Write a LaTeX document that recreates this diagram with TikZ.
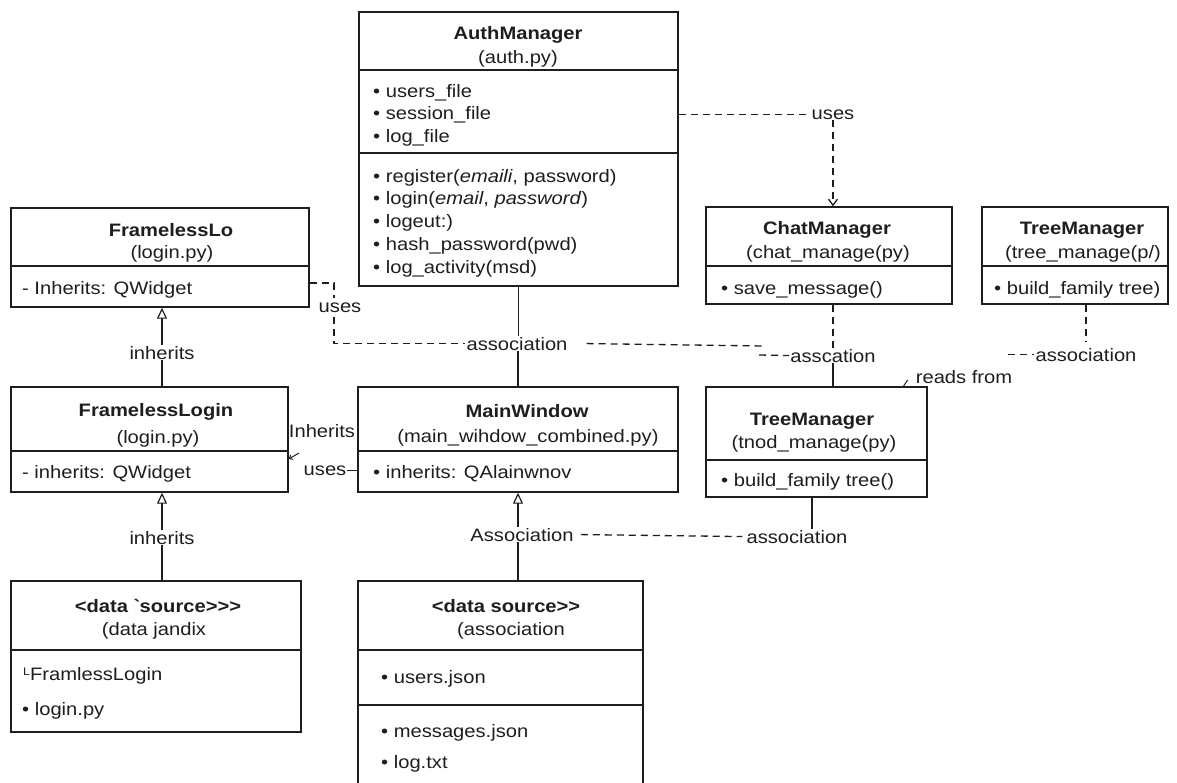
\documentclass[tikz,border=0pt]{standalone}
\usepackage{fontspec}
\setmainfont{Liberation Sans}[FakeStretch=1.12]
\usetikzlibrary{arrows.meta}
\definecolor{ink}{HTML}{1E1E1E}
\tikzset{
  umlbox/.style={draw=ink, line width=1.4pt, rectangle, inner sep=0pt},
  txt/.style={anchor=base, inner sep=1pt, text=ink, font=\fontsize{18}{18}\selectfont},
  ttl/.style={txt, font=\fontsize{18}{18}\selectfont\bfseries},
  item/.style={txt, anchor=base west},
  solidlink/.style={draw=ink, line width=1.3pt},
  dashlink/.style={draw=ink, line width=1.3pt, dash pattern=on 7pt off 5pt},
  inh/.style={-{Triangle[open,length=11pt,width=10pt,line width=1.2pt]}},
  dep/.style={-{Straight Barb[length=6pt,width=9pt]}},
}
\begin{document}
\begin{tikzpicture}[x=1pt,y=-1pt]
\useasboundingbox (0,0) rectangle (1177,782);
\fill[white] (0,0) rectangle (1177,782);
\clip (0,0) rectangle (1177,782);

% ---------- AuthManager ----------
\node[umlbox, minimum width=319pt, minimum height=274pt] (auth) at (518.5,149) {};
\draw[solidlink] (auth.west |- 0,70) -- (auth.east |- 0,70);
\draw[solidlink] (auth.west |- 0,153) -- (auth.east |- 0,153);
\node[ttl] (auth-n) at (518,39) {AuthManager};
\node[txt] (auth-f) at (518,63) {(auth.py)};
\node[item] (auth-a1) at (372,97) {• users\_file};
\node[item] (auth-a2) at (372,119) {• session\_file};
\node[item] (auth-a3) at (372,142) {• log\_file};
\node[item] (auth-m1) at (372,182) {• register(\textit{emaili}, password)};
\node[item] (auth-m2) at (372,204) {• login(\textit{email}, \textit{password})};
\node[item] (auth-m3) at (372,227) {• logeut:)};
\node[item] (auth-m4) at (372,250) {• hash\_password(pwd)};
\node[item] (auth-m5) at (372,273) {• log\_activity(msd)};

% ---------- FramelessLo ----------
\node[umlbox, minimum width=298pt, minimum height=99pt] (flo) at (160,257.5) {};
\draw[solidlink] (flo.west |- 0,266) -- (flo.east |- 0,266);
\node[ttl] (flo-n) at (171,236) {FramelessLo};
\node[txt] (flo-f) at (172,258) {(login.py)};
\node[item] (flo-a1) at (21,294) {- Inherits: QWidget};

% ---------- FramelessLogin ----------
\node[umlbox, minimum width=277pt, minimum height=105pt] (flogin) at (149.5,439.5) {};
\draw[solidlink] (flogin.west |- 0,451) -- (flogin.east |- 0,451);
\node[ttl] (flogin-n) at (156,416) {FramelessLogin};
\node[txt] (flogin-f) at (158,443) {(login.py)};
\node[item] (flogin-a1) at (21,478) {- inherits: QWidget};

% ---------- left data source ----------
\node[umlbox, minimum width=290pt, minimum height=151pt] (ds1) at (156,656.5) {};
\draw[solidlink] (ds1.west |- 0,650) -- (ds1.east |- 0,650);
\node[ttl] (ds1-n) at (158,612) {<data \textasciigrave source>{}>{}>};
\node[txt] (ds1-f) at (154,635) {(data jandix};
\node[item] (ds1-a1) at (22,680) {\raisebox{5pt}{\fontsize{11}{11}\selectfont L}FramlessLogin};
\node[item] (ds1-a2) at (21,715) {• login.py};

% ---------- MainWindow ----------
\node[umlbox, minimum width=320pt, minimum height=105pt] (mainw) at (518,439.5) {};
\draw[solidlink] (mainw.west |- 0,451) -- (mainw.east |- 0,451);
\node[ttl] (mainw-n) at (527,417) {MainWindow};
\node[txt] (mainw-f) at (528,442) {(main\_wihdow\_combined.py)};
\node[item] (mainw-a1) at (372,478) {• inherits: QAlainwnov};

% ---------- middle data source ----------
\node[umlbox, minimum width=285pt, minimum height=229pt] (ds2) at (500.5,695.5) {};
\draw[solidlink] (ds2.west |- 0,650) -- (ds2.east |- 0,650);
\draw[solidlink] (ds2.west |- 0,705) -- (ds2.east |- 0,705);
\node[ttl] (ds2-n) at (506,612) {<data source>{}>};
\node[txt] (ds2-f) at (511,635) {(association};
\node[item] (ds2-a1) at (380,683) {• users.json};
\node[item] (ds2-a2) at (380,737) {• messages.json};
\node[item] (ds2-a3) at (380,768) {• log.txt};

% ---------- ChatManager ----------
\node[umlbox, minimum width=246pt, minimum height=97pt] (chat) at (829,255.5) {};
\draw[solidlink] (chat.west |- 0,266) -- (chat.east |- 0,266);
\node[ttl] (chat-n) at (827,234) {ChatManager};
\node[txt] (chat-f) at (828,258) {(chat\_manage(py)};
\node[item] (chat-m1) at (720,294) {• save\_message()};

% ---------- TreeManager (top right) ----------
\node[umlbox, minimum width=186pt, minimum height=97pt] (tm1) at (1075,255.5) {};
\draw[solidlink] (tm1.west |- 0,266) -- (tm1.east |- 0,266);
\node[ttl] (tm1-n) at (1082,234) {TreeManager};
\node[txt] (tm1-f) at (1083,258) {(tree\_manage(p/)};
\node[item] (tm1-m1) at (993,294) {• build\_family tree)};

% ---------- TreeManager (lower) ----------
\node[umlbox, minimum width=221pt, minimum height=110pt] (tm2) at (816.5,442) {};
\draw[solidlink] (tm2.west |- 0,460) -- (tm2.east |- 0,460);
\node[ttl] (tm2-n) at (812,425) {TreeManager};
\node[txt] (tm2-f) at (814,448) {(tnod\_manage(py)};
\node[item] (tm2-m1) at (720,486) {• build\_family tree()};

% ---------- connector labels ----------
\node[txt] (usesT) at (833,119) {uses};
\node[txt] (usesL) at (340,312) {uses};
\node[txt] (assocM) at (517,350) {association};
\node[txt] (assocC) at (833,362) {asscation};
\node[txt] (assocR) at (1086,361) {association};
\node[txt] (reads) at (964,383) {reads from};
\node[txt] (inh1) at (162,359) {inherits};
\node[txt] (inh2) at (162,544) {inherits};
\node[txt] (inhR) at (322,437) {Inherits};
\node[txt] (usesM) at (325,475) {uses};
\node[txt] (assocL) at (522,541) {Association};
\node[txt] (assocB) at (797,543) {association};

% ---------- helper points ----------
\coordinate (uL1) at (334,298);
\coordinate (uL2) at (334,317);
\coordinate (stepA) at (764,346);
\coordinate (stepB) at (759,355);
\coordinate (ua) at (299,453);

% ---------- connectors ----------
% AuthManager uses ChatManager
\draw[dashlink] (auth.east |- usesT.west) -- (usesT.west);
\draw[dashlink, dep] (usesT.south) -- (usesT.south |- chat.north);
% FramelessLo uses ... association
\draw[dashlink] (flo.east |- 0,283) -| (uL1);
\draw[dashlink] (uL2) |- (assocM.west);
% AuthManager -- MainWindow
\draw[solidlink] (auth.south) -- (auth.south |- assocM.north);
\draw[solidlink] (assocM.south -| mainw.north) -- (mainw.north);
% association towards ChatManager / TreeManager
\draw[dashlink] ([xshift=18pt]assocM.east) -- (stepA);
\draw[dashlink] (stepB) -- (assocC.west);
\draw[dashlink] (assocC.north |- chat.south) -- (assocC.north);
\draw[solidlink] (assocC.south) -- (assocC.south |- tm2.north);
% TreeManager (top right) association / reads from
\draw[dashlink] (assocR.north |- tm1.south) -- ([yshift=6pt]assocR.north);
\draw[dashlink] ([xshift=-26pt]assocR.west) -- (assocR.west);
\draw[draw=ink, line width=1pt] ([xshift=-7pt,yshift=3pt]reads.base west) -- ++(-4,6);
% inheritance chain on the left
\draw[solidlink, inh] (inh1.north) -- (inh1.north |- flo.south);
\draw[solidlink] (inh1.south) -- (inh1.south |- flogin.north);
\draw[solidlink, inh] (inh2.north) -- (inh2.north |- flogin.south);
\draw[solidlink] (inh2.south) -- (inh2.south |- ds1.north);
% MainWindow -- FramelessLogin
\draw[solidlink] (flogin.east |- inhR.west) -- (inhR.west);
\draw[solidlink] (usesM.east) -- (mainw.west |- usesM.east);
\draw[draw=ink, line width=1pt, -{Straight Barb[length=3pt,width=5pt]}] (ua) -- (flogin.east |- 0,459);
% MainWindow -- data source, association to lower TreeManager
\draw[solidlink, inh] (assocL.north -| mainw.south) -- (mainw.south);
\draw[solidlink] (assocL.south -| mainw.south) -- (ds2.north -| mainw.south);
\draw[dashlink] ([xshift=6pt]assocL.east) -- ([xshift=-3pt]assocB.west);
\draw[solidlink] (tm2.south -| 812,0) -- (assocB.north -| 812,0);
\end{tikzpicture}
\end{document}
